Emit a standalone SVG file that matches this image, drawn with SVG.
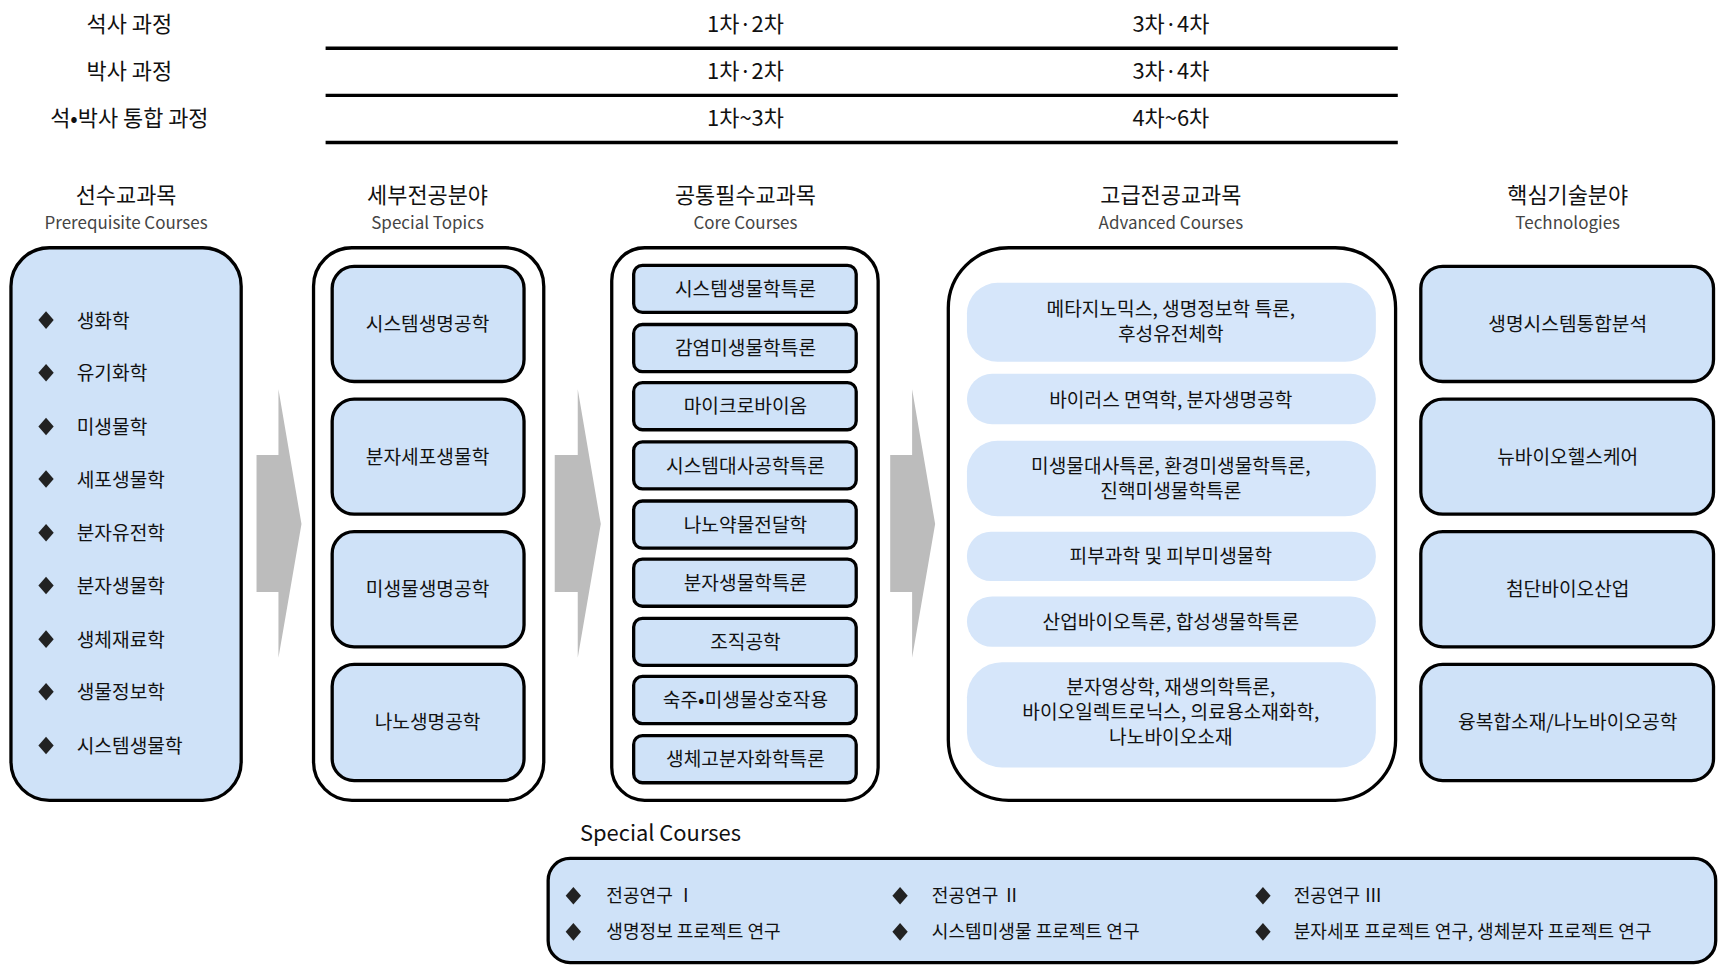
<svg xmlns="http://www.w3.org/2000/svg" width="1719" height="965" viewBox="0 0 1719 965">
<defs>
<style>
text{font-family:"Noto Sans CJK KR","Noto Sans",sans-serif;fill:#111;}
.t{font-size:20px;text-anchor:middle;}
.h{font-size:20px;text-anchor:middle;}
.e{font-size:15.5px;text-anchor:middle;fill:#444;}
.i{font-size:17.5px;}
.c{font-size:17.5px;text-anchor:middle;}
.s{font-size:16.5px;}
.b{fill:#cfe2f8;stroke:#000;stroke-width:3;}
.w{fill:#fff;stroke:#000;stroke-width:3;}
.p{fill:#d6e6fa;}
.ln{stroke:#000;stroke-width:3;}
.g{fill:#bcbcbc;}
.ba{fill:#2e5597;}
</style>
<path id="dm" d="M0,-8 L7,0 L0,8 L-7,0 Z" fill="#222"/>
</defs>
<rect width="1719" height="965" fill="#fff"/>
<g transform="scale(1.0963)">
<g id="schedule">
<text class="t" x="118" y="29">석사 과정</text>
<text class="t" x="118" y="72">박사 과정</text>
<text class="t" x="118" y="115">석•박사 통합 과정</text>
<text class="t" x="680" y="29">1차·2차</text>
<text class="t" x="1068" y="29">3차·4차</text>
<text class="t" x="680" y="72">1차·2차</text>
<text class="t" x="1068" y="72">3차·4차</text>
<text class="t" x="680" y="115">1차~3차</text>
<text class="t" x="1068" y="115">4차~6차</text>
<line class="ln" x1="297" y1="44" x2="1275" y2="44"/>
<line class="ln" x1="297" y1="87" x2="1275" y2="87"/>
<line class="ln" x1="297" y1="130" x2="1275" y2="130"/>
</g>
<g id="headers">
<text class="h" x="115" y="185">선수교과목</text><text class="e" x="115" y="209">Prerequisite Courses</text>
<text class="h" x="390" y="185">세부전공분야</text><text class="e" x="390" y="209">Special Topics</text>
<text class="h" x="680" y="185">공통필수교과목</text><text class="e" x="680" y="209">Core Courses</text>
<text class="h" x="1068" y="185">고급전공교과목</text><text class="e" x="1068" y="209">Advanced Courses</text>
<text class="h" x="1430" y="185">핵심기술분야</text><text class="e" x="1430" y="209">Technologies</text>
</g>
<g id="connectors">
<path class="g" d="M234,415 L254,415 L254,355 L275,478 L254,600 L254,540 L234,540 Z"/>
<path class="g" d="M506,415 L527,415 L527,355 L548,478 L527,600 L527,540 L506,540 Z"/>
<path class="g" d="M812,415 L832,415 L832,355 L853,478 L832,600 L832,540 L812,540 Z"/>
<path class="ba" d="M747,815 L770,815 L770,803 L793,831 L770,858 L770,846 L747,846 Z"/>
<path class="ba" d="M1078,815 L1101,815 L1101,803 L1124,831 L1101,858 L1101,846 L1078,846 Z"/>
</g>
<g id="prereq">
<rect class="b" x="10" y="226" width="210" height="504" rx="35"/>
<use href="#dm" x="42" y="292"/><text class="i" x="70" y="299">생화학</text>
<use href="#dm" x="42" y="340"/><text class="i" x="70" y="347">유기화학</text>
<use href="#dm" x="42" y="389"/><text class="i" x="70" y="396">미생물학</text>
<use href="#dm" x="42" y="437"/><text class="i" x="70" y="444">세포생물학</text>
<use href="#dm" x="42" y="486"/><text class="i" x="70" y="493">분자유전학</text>
<use href="#dm" x="42" y="534"/><text class="i" x="70" y="541">분자생물학</text>
<use href="#dm" x="42" y="583"/><text class="i" x="70" y="590">생체재료학</text>
<use href="#dm" x="42" y="631"/><text class="i" x="70" y="638">생물정보학</text>
<use href="#dm" x="42" y="680"/><text class="i" x="70" y="687">시스템생물학</text>
</g>
<g id="topics">
<rect class="w" x="286" y="226" width="210" height="504" rx="35"/>
<rect class="b" x="303" y="243" width="175" height="105" rx="20"/><text class="c" x="390" y="302">시스템생명공학</text>
<rect class="b" x="303" y="364" width="175" height="105" rx="20"/><text class="c" x="390" y="423">분자세포생물학</text>
<rect class="b" x="303" y="485" width="175" height="105" rx="20"/><text class="c" x="390" y="544">미생물생명공학</text>
<rect class="b" x="303" y="606" width="175" height="106" rx="20"/><text class="c" x="390" y="665">나노생명공학</text>
</g>
<g id="core">
<rect class="w" x="558" y="226" width="243" height="504" rx="30"/>
<rect class="b" x="578" y="242" width="203" height="43" rx="8"/><text class="c" x="680" y="270">시스템생물학특론</text>
<rect class="b" x="578" y="296" width="203" height="43" rx="8"/><text class="c" x="680" y="324">감염미생물학특론</text>
<rect class="b" x="578" y="349" width="203" height="43" rx="8"/><text class="c" x="680" y="377">마이크로바이옴</text>
<rect class="b" x="578" y="403" width="203" height="43" rx="8"/><text class="c" x="680" y="431">시스템대사공학특론</text>
<rect class="b" x="578" y="457" width="203" height="43" rx="8"/><text class="c" x="680" y="485">나노약물전달학</text>
<rect class="b" x="578" y="510" width="203" height="43" rx="8"/><text class="c" x="680" y="538">분자생물학특론</text>
<rect class="b" x="578" y="564" width="203" height="43" rx="8"/><text class="c" x="680" y="592">조직공학</text>
<rect class="b" x="578" y="617" width="203" height="43" rx="8"/><text class="c" x="680" y="645">숙주•미생물상호작용</text>
<rect class="b" x="578" y="671" width="203" height="43" rx="8"/><text class="c" x="680" y="699">생체고분자화학특론</text>
</g>
<g id="advanced">
<rect class="w" x="865" y="226" width="408" height="504" rx="55"/>
<rect class="p" x="882" y="258" width="373" height="72" rx="28"/>
<text class="c" x="1068" y="288">메타지노믹스, 생명정보학 특론,</text><text class="c" x="1068" y="311">후성유전체학</text>
<rect class="p" x="882" y="341" width="373" height="46" rx="23"/><text class="c" x="1068" y="371">바이러스 면역학, 분자생명공학</text>
<rect class="p" x="882" y="402" width="373" height="69" rx="28"/>
<text class="c" x="1068" y="431">미생물대사특론, 환경미생물학특론,</text><text class="c" x="1068" y="454">진핵미생물학특론</text>
<rect class="p" x="882" y="485" width="373" height="45" rx="22"/><text class="c" x="1068" y="514">피부과학 및 피부미생물학</text>
<rect class="p" x="882" y="544" width="373" height="46" rx="23"/><text class="c" x="1068" y="574">산업바이오특론, 합성생물학특론</text>
<rect class="p" x="882" y="604" width="373" height="96" rx="32"/>
<text class="c" x="1068" y="633">분자영상학, 재생의학특론,</text><text class="c" x="1068" y="656">바이오일렉트로닉스, 의료용소재화학,</text><text class="c" x="1068" y="679">나노바이오소재</text>
</g>
<g id="tech">
<rect class="b" x="1296" y="243" width="267" height="105" rx="20"/><text class="c" x="1430" y="302">생명시스템통합분석</text>
<rect class="b" x="1296" y="364" width="267" height="105" rx="20"/><text class="c" x="1430" y="423">뉴바이오헬스케어</text>
<rect class="b" x="1296" y="485" width="267" height="105" rx="20"/><text class="c" x="1430" y="544">첨단바이오산업</text>
<rect class="b" x="1296" y="606" width="267" height="106" rx="20"/><text class="c" x="1430" y="665">융복합소재/나노바이오공학</text>
</g>
<g id="special">
<text x="529" y="767" style="font-size:20px">Special Courses</text>
<rect class="b" x="500" y="783" width="1065" height="95" rx="20"/>
<use href="#dm" x="523" y="817"/><text class="s" x="553" y="823">전공연구 Ⅰ</text>
<use href="#dm" x="523" y="850"/><text class="s" x="553" y="856">생명정보 프로젝트 연구</text>
<use href="#dm" x="821" y="817"/><text class="s" x="850" y="823">전공연구 Ⅱ</text>
<use href="#dm" x="821" y="850"/><text class="s" x="850" y="856">시스템미생물 프로젝트 연구</text>
<use href="#dm" x="1152" y="817"/><text class="s" x="1180" y="823">전공연구 Ⅲ</text>
<use href="#dm" x="1152" y="850"/><text class="s" x="1180" y="856">분자세포 프로젝트 연구, 생체분자 프로젝트 연구</text>
</g>
</g>
</svg>
